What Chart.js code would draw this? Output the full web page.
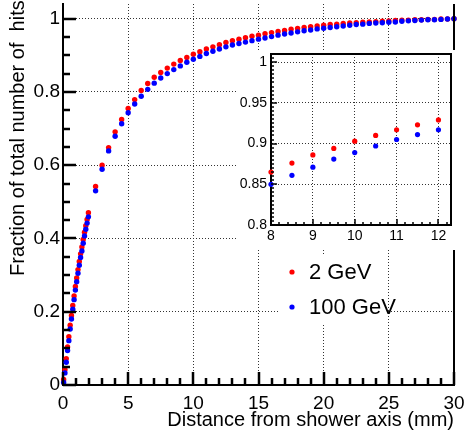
<!DOCTYPE html>
<html>
<head>
<meta charset="utf-8">
<script src="https://cdn.jsdelivr.net/npm/chart.js@4.4.0/dist/chart.umd.min.js"></script>
<style>
  html, body { margin: 0; padding: 0; background: #fff; }
  #wrap { position: relative; width: 464px; height: 439px; overflow: hidden; }
  #mainChart { position: absolute; left: 0; top: 0; }
  #insetChart { position: absolute; left: 237px; top: 50px; background: #fff; }
</style>
</head>
<body>
<div id="wrap">
  <canvas id="mainChart" width="464" height="439"></canvas>
  <canvas id="insetChart" width="218" height="200"></canvas>
</div>
<script>
// Radial profile: fraction of hits within a distance from the shower axis

const distance = [
  0.05, 0.15, 0.25, 0.35, 0.45, 0.55, 0.65, 0.75, 0.85, 0.95,
  1.05, 1.15, 1.25, 1.35, 1.45, 1.55, 1.65, 1.75, 1.85, 1.95,
  2.5, 3, 3.5, 4, 4.5, 5, 5.5, 6, 6.5, 7, 7.5, 8, 8.5, 9, 9.5, 10,
  10.5, 11, 11.5, 12, 12.5, 13, 13.5, 14, 14.5, 15, 15.5, 16, 16.5, 17,
  17.5, 18, 18.5, 19, 19.5, 20, 20.5, 21, 21.5, 22, 22.5, 23, 23.5, 24,
  24.5, 25, 25.5, 26, 26.5, 27, 27.5, 28, 28.5, 29, 29.5, 30
];

const frac2GeV = [
  0.015, 0.042, 0.072, 0.104, 0.132, 0.163, 0.190, 0.217, 0.243, 0.269,
  0.292, 0.315, 0.337, 0.358, 0.377, 0.397, 0.417, 0.435, 0.452, 0.470,
  0.542, 0.600, 0.648, 0.691, 0.725, 0.755, 0.779, 0.804, 0.823, 0.840,
  0.853, 0.865, 0.876, 0.886, 0.894, 0.903, 0.910, 0.917, 0.923, 0.929,
  0.935, 0.940, 0.944, 0.948, 0.952, 0.955, 0.959, 0.962, 0.965, 0.968,
  0.971, 0.973, 0.976, 0.978, 0.980, 0.982, 0.984, 0.985, 0.987, 0.988,
  0.989, 0.990, 0.991, 0.992, 0.993, 0.994, 0.995, 0.996, 0.996, 0.997,
  0.997, 0.998, 0.998, 0.999, 0.999, 1.000
];

const frac100GeV = [
  0.007, 0.033, 0.062, 0.094, 0.121, 0.153, 0.180, 0.207, 0.233, 0.259,
  0.282, 0.305, 0.327, 0.348, 0.366, 0.387, 0.407, 0.425, 0.442, 0.459,
  0.530, 0.589, 0.639, 0.679, 0.713, 0.743, 0.767, 0.788, 0.807, 0.824,
  0.838, 0.850, 0.861, 0.871, 0.881, 0.889, 0.897, 0.905, 0.911, 0.917,
  0.923, 0.928, 0.932, 0.936, 0.940, 0.944, 0.947, 0.951, 0.955, 0.958,
  0.961, 0.964, 0.967, 0.969, 0.972, 0.974, 0.976, 0.978, 0.980, 0.982,
  0.984, 0.985, 0.987, 0.988, 0.989, 0.990, 0.991, 0.993, 0.994, 0.995,
  0.996, 0.997, 0.997, 0.998, 0.999, 1.000
];

const seriesLabels = ['2 GeV', '100 GeV'];
const seriesColors = ['#ff0000', '#0000ff'];

const xTicks = [0, 5, 10, 15, 20, 25, 30];
const xTickLabels = ['0', '5', '10', '15', '20', '25', '30'];
const yTicks = [0, 0.2, 0.4, 0.6, 0.8, 1];
const yTickLabels = ['0', '0.2', '0.4', '0.6', '0.8', '1'];

const insetXTicks = [8, 9, 10, 11, 12];
const insetXTickLabels = ['8', '9', '10', '11', '12'];
const insetYTicks = [0.8, 0.85, 0.9, 0.95, 1];
const insetYTickLabels = ['0.8', '0.85', '0.9', '0.95', '1'];

const xTitle = 'Distance from shower axis (mm)';
const yTitle = 'Fraction of total number of  hits';

// tick mark spacing for the main pad and for the zoomed inset
const mainMarks = { xMinor: 1, xMajor: 5, yMinor: 0.05, yMajor: 0.2, minorLen: 7, majorLen: 13, width: 2.5, top: false };
const insetMarks = { xMinor: 0.2, xMajor: 1, yMinor: 0.005, yMajor: 0.05, minorLen: 3, majorLen: 6, width: 1.5, top: true };

Chart.defaults.font.family = '"Liberation Sans", Arial, sans-serif';
Chart.defaults.color = '#000';

function points(ys) {
    return distance.map((d, i) => ({ x: d, y: ys[i] }));
}

function datasets(radius, clip) {
    return [{
        label: seriesLabels[0],
        data: points(frac2GeV),
        backgroundColor: seriesColors[0],
        pointRadius: radius,
        pointBorderWidth: 0,
        showLine: false,
        clip: clip,
        order: 2
    }, {
        label: seriesLabels[1],
        data: points(frac100GeV),
        backgroundColor: seriesColors[1],
        pointRadius: radius,
        pointBorderWidth: 0,
        showLine: false,
        clip: clip,
        order: 1
    }];
}

// hide the grid line that sits on the axis
function gridColor(ctx) {
    const s = ctx.scale;
    if (!ctx.tick) return 'rgba(0,0,0,0)';
    if (Math.abs(ctx.tick.value - s.min) < 1e-9 || Math.abs(ctx.tick.value - s.max) < 1e-9) return 'rgba(0,0,0,0)';
    return '#333';
}

// ROOT style ticks pointing into the frame, plus the closing frame lines
function frameTicks(marks) {
    return {
        id: 'frameTicks',
        afterDraw(chart) {
            const { ctx, chartArea: a } = chart;
            const xs = chart.scales.x, ys = chart.scales.y;
            const xn = Math.floor((xs.max - xs.min) / marks.xMinor + 1e-6);
            const yn = Math.floor((ys.max - ys.min) / marks.yMinor + 1e-6);
            const xPer = Math.round(marks.xMajor / marks.xMinor);
            const yPer = Math.round(marks.yMajor / marks.yMinor);
            ctx.save();
            ctx.setLineDash([]); // the grid dash leaks out of the scale drawing
            ctx.strokeStyle = '#000';
            ctx.lineWidth = marks.width;
            ctx.beginPath();
            for (let k = 0; k <= xn; k++) {
                const px = Math.round(xs.getPixelForValue(xs.min + k * marks.xMinor));
                ctx.moveTo(px, a.bottom);
                ctx.lineTo(px, a.bottom - (k % xPer === 0 ? marks.majorLen : marks.minorLen));
            }
            for (let k = 0; k <= yn; k++) {
                const py = Math.round(ys.getPixelForValue(ys.min + k * marks.yMinor));
                ctx.moveTo(a.left, py);
                ctx.lineTo(a.left + (k % yPer === 0 ? marks.majorLen : marks.minorLen), py);
            }
            ctx.stroke();
            ctx.lineWidth = 2;
            ctx.beginPath();
            ctx.moveTo(a.right, a.bottom);
            ctx.lineTo(a.right, a.top);
            if (marks.top) ctx.lineTo(a.left, a.top);
            ctx.stroke();
            ctx.restore();
        }
    };
}

// rotated y title and the floating legend box of the main pad
const mainDecor = {
    id: 'mainDecor',
    afterDraw(chart) {
        const ctx = chart.ctx;
        ctx.save();
        ctx.fillStyle = '#000';
        ctx.font = '20px "Liberation Sans", Arial, sans-serif';
        ctx.translate(24, 276);
        ctx.rotate(-Math.PI / 2);
        ctx.textAlign = 'left';
        ctx.textBaseline = 'alphabetic';
        ctx.fillText(yTitle, 0, 0);
        ctx.restore();

        ctx.save();
        ctx.fillStyle = '#fff';
        ctx.fillRect(280, 255, 108, 70);
        ctx.font = '22px "Liberation Sans", Arial, sans-serif';
        ctx.textBaseline = 'middle';
        ctx.textAlign = 'left';
        const rows = [272, 307];
        seriesLabels.forEach((label, i) => {
            ctx.fillStyle = seriesColors[i];
            ctx.beginPath();
            ctx.arc(292, rows[i], 2.6, 0, Math.PI * 2);
            ctx.fill();
            ctx.fillStyle = '#000';
            ctx.fillText(label, 309, rows[i] + 1);
        });
        ctx.restore();
    }
};

function axis(opts) {
    return {
        type: 'linear',
        min: opts.min,
        max: opts.max,
        afterBuildTicks: s => { s.ticks = opts.ticks.map(v => ({ value: v })); },
        afterFit: s => {
            if (opts.height !== undefined) s.height = opts.height;
            if (opts.width !== undefined) s.width = opts.width;
            s.paddingLeft = 0; s.paddingRight = 0; s.paddingTop = 0; s.paddingBottom = 0;
        },
        ticks: {
            color: '#000',
            font: { size: opts.fontSize },
            padding: opts.padding,
            maxRotation: 0,
            autoSkip: false,
            callback: (v, i) => opts.labels[i]
        },
        grid: { color: gridColor, lineWidth: 1, drawTicks: false },
        border: { display: true, color: '#000', width: 2, dash: [1, 2] },
        title: opts.title || { display: false }
    };
}

new Chart(document.getElementById('mainChart'), {
    type: 'scatter',
    data: { datasets: datasets(2.7, false) },
    options: {
        responsive: false,
        animation: false,
        devicePixelRatio: 1,
        layout: { padding: { left: 0, right: 10, top: 0, bottom: 0 } },
        plugins: {
            legend: { display: false },
            tooltip: { enabled: false }
        },
        scales: {
            x: axis({
                min: 0, max: 30, ticks: xTicks, labels: xTickLabels,
                fontSize: 19, padding: 7, height: 54,
                title: {
                    display: true, text: xTitle, align: 'end', color: '#000',
                    font: { size: 20 }, padding: { top: 0, bottom: 7 }
                }
            }),
            y: axis({
                min: 0, max: 1.04, ticks: yTicks, labels: yTickLabels,
                fontSize: 19, padding: 3, width: 63
            })
        }
    },
    plugins: [frameTicks(mainMarks), mainDecor]
});

new Chart(document.getElementById('insetChart'), {
    type: 'scatter',
    data: { datasets: datasets(2.6, 4) },
    options: {
        responsive: false,
        animation: false,
        devicePixelRatio: 1,
        layout: { padding: { left: 0, right: 2, top: 4, bottom: 0 } },
        plugins: {
            legend: { display: false },
            tooltip: { enabled: false }
        },
        scales: {
            x: axis({
                min: 8, max: 12.3, ticks: insetXTicks, labels: insetXTickLabels,
                fontSize: 14, padding: 3, height: 25
            }),
            y: axis({
                min: 0.8, max: 1.01, ticks: insetYTicks, labels: insetYTickLabels,
                fontSize: 14, padding: 4, width: 34
            })
        }
    },
    plugins: [frameTicks(insetMarks)]
});
</script>
</body>
</html>
